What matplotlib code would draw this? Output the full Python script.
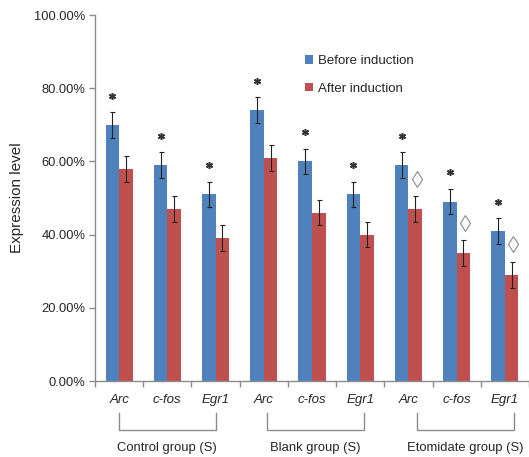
import numpy as np
import matplotlib
matplotlib.use("Agg")
import matplotlib.pyplot as plt
import matplotlib.transforms as mtransforms
from matplotlib.patches import Patch

plt.rcParams['font.family'] = ['Liberation Sans', 'DejaVu Sans']

# expression levels (%) per gene, grouped by treatment
genes = ['Arc', 'c-fos', 'Egr1', 'Arc', 'c-fos', 'Egr1', 'Arc', 'c-fos', 'Egr1']
groups = ['Control group (S)', 'Blank group (S)', 'Etomidate group (S)']
before = [70, 59, 51, 74, 60, 51, 59, 49, 41]
after = [58, 47, 39, 61, 46, 40, 47, 35, 29]
before_err = [3.5, 3.5, 3.5, 3.5, 3.5, 3.5, 3.5, 3.5, 3.5]
after_err = [3.5, 3.5, 3.5, 3.5, 3.5, 3.5, 3.5, 3.5, 3.5]
star = [True] * 9
diamond = [False, False, False, False, False, False, True, True, True]

BLUE = '#4f81bd'
RED = '#c0504d'
AXIS = '#8c8c8c'
TEXT = '#262626'

W, H = 529, 457
fig = plt.figure(figsize=(W / 100, H / 100), dpi=100)
left, bottom, top = 95, 381, 15
cat_w = 48.5
ax = fig.add_axes([left / W, (H - bottom) / H, (W - left) / W, (bottom - top) / H])

x = np.arange(len(genes)) + 0.5
bw = 0.28
err_kw = dict(ecolor='#222222', elinewidth=0.8, capsize=1.8, capthick=0.8)
ax.bar(x - bw / 2, before, bw, color=BLUE, yerr=before_err, error_kw=err_kw, zorder=2)
ax.bar(x + bw / 2, after, bw, color=RED, yerr=after_err, error_kw=err_kw, zorder=2)

# significance markers
b = np.array(before) + np.array(before_err) + 4.5
s = np.array(star)
ax.plot((x - bw / 2)[s], b[s], linestyle='none', marker=(6, 2, 0),
        markersize=5, markeredgewidth=1.1, color='#333333', zorder=3)
a = np.array(after) + np.array(after_err) + 4.8
d = np.array(diamond)
ax.plot((x + bw / 2 + 0.03)[d], a[d], linestyle='none', marker='d', markersize=8.5,
        markerfacecolor='white', markeredgecolor='#8a8a8a', markeredgewidth=0.8, zorder=3)

ax.set_xlim(0, (W - left) / cat_w)
ax.set_ylim(0, 100)
ax.set_yticks(np.arange(0, 101, 20))
ax.set_yticklabels([f'{v:.2f}%' for v in np.arange(0, 101, 20)])
ax.set_xticks(np.arange(0, 10))
ax.set_xticklabels([])
ax.set_xticks(x, minor=True)
ax.set_xticklabels(genes, minor=True, style='italic', fontsize=9.5, color=TEXT)
ax.tick_params(axis='x', which='major', length=4, width=1, color=AXIS, direction='out')
ax.tick_params(axis='x', which='minor', length=0, pad=9.5)
ax.tick_params(axis='y', length=4, width=1, color=AXIS, direction='out', pad=3,
               labelsize=9.3, labelcolor=TEXT)

for side in ('top', 'right'):
    ax.spines[side].set_visible(False)
for side in ('left', 'bottom'):
    ax.spines[side].set_color(AXIS)
    ax.spines[side].set_linewidth(1)

ax.set_ylabel('Expression level', fontsize=11, color=TEXT, labelpad=7)

# group brackets beneath the gene labels
trans = mtransforms.blended_transform_factory(ax.transData, ax.transAxes)
y_tick = (bottom - 413) / (bottom - top)
y_line = (bottom - 430) / (bottom - top)
y_text = (bottom - 448) / (bottom - top)
shifts = [0.0, 0.07, 0.18]
for i, name in enumerate(groups):
    x0 = x[3 * i] + shifts[i]
    x1 = x[3 * i + 2] + shifts[i]
    ax.plot([x0, x0, x1, x1], [y_tick, y_line, y_line, y_tick], color=AXIS,
            linewidth=1, transform=trans, clip_on=False)
    ax.text((x0 + x1) / 2, y_text, name, transform=trans, ha='center', va='center',
            fontsize=9.4, color=TEXT)

handles = [Patch(facecolor=BLUE, edgecolor='none', label='Before induction'),
           Patch(facecolor=RED, edgecolor='none', label='After induction')]
ax.legend(handles=handles, loc='upper left', bbox_to_anchor=(305 / W, 1 - 55 / H),
          bbox_transform=fig.transFigure, frameon=False, fontsize=9.5,
          handlelength=0.62, handleheight=0.62, handletextpad=0.35,
          labelspacing=1.2, borderpad=0, borderaxespad=0, labelcolor=TEXT)

fig.savefig('out.png', dpi=100)
